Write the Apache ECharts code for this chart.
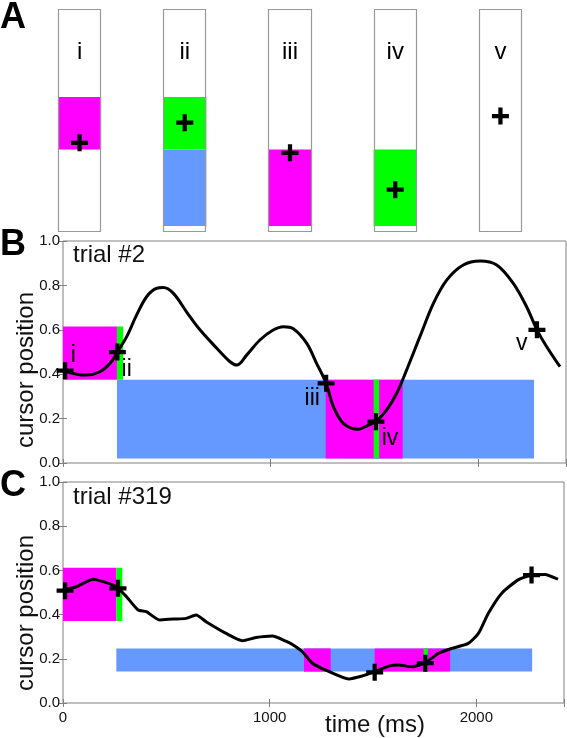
<!DOCTYPE html>
<html><head><meta charset="utf-8">
<script src="https://cdn.jsdelivr.net/npm/echarts@6/dist/echarts.min.js"></script>
<style>html,body{margin:0;padding:0;background:#fff}#c{width:567px;height:738px}</style>
</head><body><div id="c"></div>
<script>
// ---------- Panel A (screen schematic, positions 0..1) ----------
const boxNames = ['i', 'ii', 'iii', 'iv', 'v'];
const boxCursor = [0.40, 0.49, 0.355, 0.19, 0.52];
const boxLabelY = 0.807;
const boxFillBox = [0, 1, 1, 2, 3];
const boxFillLow = [0.37, 0.37, 0.027, 0.027, 0.027];
const boxFillHigh = [0.605, 0.605, 0.37, 0.37, 0.37];
const boxFillKind = ['magenta', 'green', 'blue', 'magenta', 'green'];

// ---------- Panel B: trial #2 ----------
const timeB = [0, 66, 114, 178, 227, 262, 307, 355, 403, 452, 483, 532, 596, 660, 741, 805, 837, 885, 949, 1013, 1062, 1110, 1174, 1222, 1268, 1303, 1351, 1424, 1472, 1508, 1560, 1608, 1656, 1720, 1785, 1849, 1929, 2010, 2090, 2170, 2234, 2284, 2331, 2395];
const posB = [0.416, 0.40, 0.396, 0.411, 0.449, 0.50, 0.569, 0.667, 0.749, 0.787, 0.79, 0.764, 0.68, 0.60, 0.517, 0.456, 0.441, 0.486, 0.554, 0.599, 0.614, 0.605, 0.54, 0.449, 0.359, 0.254, 0.179, 0.152, 0.171, 0.186, 0.239, 0.314, 0.419, 0.569, 0.719, 0.824, 0.892, 0.91, 0.892, 0.809, 0.704, 0.60, 0.524, 0.434];
const eventTimeB = [10, 262, 1268, 1508, 2284];
const eventPosB = [0.416, 0.50, 0.359, 0.186, 0.60];
const eventLabelB = ['i', 'ii', 'iii', 'iv', 'v'];
const eventLabelTimeB = [50, 307, 1201, 1576, 2211];
const eventLabelPosB = [0.482, 0.422, 0.291, 0.111, 0.539];
const zoneStartB = [0, 260, 260, 1266, 1497];
const zoneEndB = [260, 290, 2270, 1637, 1523];
const zoneLowB = [0.375, 0.375, 0.02, 0.02, 0.02];
const zoneHighB = [0.615, 0.615, 0.375, 0.375, 0.375];
const zoneKindB = ['magenta', 'green', 'blue', 'magenta', 'green'];

// ---------- Panel C: trial #319 ----------
const timeC = [0, 66, 146, 194, 258, 307, 363, 403, 467, 532, 596, 644, 692, 789, 869, 933, 1013, 1078, 1110, 1158, 1207, 1271, 1383, 1447, 1508, 1576, 1624, 1688, 1753, 1817, 1881, 1961, 2010, 2058, 2122, 2202, 2267, 2331, 2395];
const posC = [0.511, 0.526, 0.56, 0.549, 0.526, 0.481, 0.421, 0.413, 0.376, 0.38, 0.383, 0.398, 0.368, 0.315, 0.282, 0.296, 0.303, 0.28, 0.265, 0.232, 0.18, 0.149, 0.109, 0.122, 0.142, 0.167, 0.172, 0.164, 0.182, 0.225, 0.247, 0.27, 0.315, 0.406, 0.496, 0.557, 0.579, 0.582, 0.56];
const eventTimeC = [10, 266, 1508, 1753, 2267];
const eventPosC = [0.508, 0.519, 0.139, 0.18, 0.579];
const zoneStartC = [0, 258, 258, 1166, 1508, 1745];
const zoneEndC = [258, 287, 2270, 1295, 1873, 1765];
const zoneLowC = [0.371, 0.371, 0.142, 0.142, 0.142, 0.142];
const zoneHighC = [0.612, 0.612, 0.247, 0.247, 0.247, 0.247];
const zoneKindC = ['magenta', 'green', 'blue', 'magenta', 'magenta', 'green'];

// ---------- axes ----------
const timeMax = 2424;
const timeTickStep = 1000;
const posTickStep = 0.2;

// ---------- styling ----------
const COLORS = { magenta: '#ff00ff', green: '#00ff00', blue: '#6699ff' };
const CROSS = 'path://M3,0L5,0L5,3L8,3L8,5L5,5L5,8L3,8L3,5L0,5L0,3L3,3Z';
const FONT = '"Liberation Sans", Arial, sans-serif';
const GREY = '#808080';
const TXT = '#111';

const chart = echarts.init(document.getElementById('c'), null, { renderer: 'canvas' });

function rectItem(params, api) {
  const p0 = api.coord([api.value(0), api.value(3)]);
  const p1 = api.coord([api.value(1), api.value(2)]);
  return { type: 'rect', shape: { x: p0[0], y: p0[1], width: p1[0] - p0[0], height: p1[1] - p0[1] },
           style: { fill: api.visual('color') } };
}
function outlineItem(params, api) {
  const p0 = api.coord([api.value(0), api.value(3)]);
  const p1 = api.coord([api.value(1), api.value(2)]);
  const x0 = Math.round(p0[0]) + 0.5, y0 = Math.round(p0[1]) + 0.5;
  const x1 = Math.round(p1[0]) - 0.5, y1 = Math.round(p1[1]) - 0.5;
  return { type: 'rect', shape: { x: x0, y: y0, width: x1 - x0, height: y1 - y0 },
           style: { fill: 'none', stroke: '#999', lineWidth: 1.2 } };
}
function textRenderer(names, size) {
  return function (params, api) {
    const p = api.coord([api.value(0), api.value(1)]);
    return { type: 'text', x: p[0], y: p[1],
             style: { text: names[params.dataIndex], font: size + 'px ' + FONT, fill: '#000', align: 'center', verticalAlign: 'middle' } };
  };
}

const boxW = 0.41;
const boxOutlines = boxNames.map((n, k) => [k, k + boxW, 0, 1]);
const boxFills = boxFillBox.map((k, i) => ({ value: [k, k + boxW, boxFillLow[i], boxFillHigh[i]], itemStyle: { color: COLORS[boxFillKind[i]] } }));
const boxCrosses = boxCursor.map((y, k) => [k + boxW / 2, y]);
const boxLabels = boxNames.map((n, k) => [k + boxW / 2, boxLabelY]);

function zones(s, e, lo, hi, kind) {
  return s.map((v, i) => ({ value: [v, e[i], lo[i], hi[i]], itemStyle: { color: COLORS[kind[i]] } }));
}
const zip = (a, b) => a.map((v, i) => [v, b[i]]);

function timeAxis(grid, pos, labels) {
  return {
    type: 'value', gridIndex: grid, position: pos, min: 0, max: timeMax, interval: timeTickStep,
    axisLine: { show: false }, splitLine: { show: false },
    axisTick: { show: true, inside: true, length: 4, lineStyle: { color: GREY } },
    axisLabel: { show: labels, color: TXT, fontSize: 15, fontFamily: FONT, margin: 7,
                 formatter: v => (v % timeTickStep === 0 ? String(v) : '') }
  };
}
function posAxis(grid, pos, labels) {
  return {
    type: 'value', gridIndex: grid, position: pos, min: 0, max: 1, interval: posTickStep,
    axisLine: { show: false }, splitLine: { show: false },
    axisTick: { show: true, inside: true, length: 4, lineStyle: { color: GREY } },
    axisLabel: { show: labels, color: TXT, fontSize: 15, fontFamily: FONT, margin: 3,
                 formatter: v => v.toFixed(1) }
  };
}

const option = {
  animation: false,
  backgroundColor: '#fff',
  grid: [
    { left: 58, top: 9, width: 464, height: 223 },
    { left: 63, top: 241, width: 503, height: 222, show: true, borderColor: GREY, borderWidth: 1, backgroundColor: 'transparent' },
    { left: 63, top: 482, width: 503, height: 221, show: true, borderColor: GREY, borderWidth: 1, backgroundColor: 'transparent' }
  ],
  xAxis: [
    { type: 'value', gridIndex: 0, min: 0, max: 4 + boxW, show: false },
    timeAxis(1, 'bottom', false),
    timeAxis(1, 'top', false),
    timeAxis(2, 'bottom', true),
    timeAxis(2, 'top', false)
  ],
  yAxis: [
    { type: 'value', gridIndex: 0, min: 0, max: 1, show: false },
    posAxis(1, 'left', true),
    posAxis(1, 'right', false),
    posAxis(2, 'left', true),
    posAxis(2, 'right', false)
  ],
  graphic: [
    { type: 'text', left: 0, top: 0, style: { text: 'A', font: 'bold 36px ' + FONT, fill: '#000' } },
    { type: 'text', left: 0, top: 227, style: { text: 'B', font: 'bold 36px ' + FONT, fill: '#000' } },
    { type: 'text', left: 0, top: 468, style: { text: 'C', font: 'bold 36px ' + FONT, fill: '#000' } },
    { type: 'text', x: 26, y: 370, rotation: Math.PI / 2, style: { text: 'cursor position', font: '24px ' + FONT, fill: TXT, align: 'center', verticalAlign: 'middle' } },
    { type: 'text', x: 26, y: 613, rotation: Math.PI / 2, style: { text: 'cursor position', font: '24px ' + FONT, fill: TXT, align: 'center', verticalAlign: 'middle' } },
    { type: 'text', x: 375, y: 725, style: { text: 'time (ms)', font: '24px ' + FONT, fill: TXT, align: 'center', verticalAlign: 'middle' } },
    { type: 'text', x: 73, y: 255, style: { text: 'trial #2', font: '24px ' + FONT, fill: TXT, align: 'left', verticalAlign: 'middle' } },
    { type: 'text', x: 73, y: 497, style: { text: 'trial #319', font: '24px ' + FONT, fill: TXT, align: 'left', verticalAlign: 'middle' } }
  ],
  series: [
    // Panel A
    { type: 'custom', xAxisIndex: 0, yAxisIndex: 0, renderItem: rectItem, data: boxFills, silent: true, z: 1 },
    { type: 'custom', xAxisIndex: 0, yAxisIndex: 0, renderItem: outlineItem, data: boxOutlines, silent: true, z: 2 },
    { type: 'custom', xAxisIndex: 0, yAxisIndex: 0, renderItem: textRenderer(boxNames, 24), data: boxLabels, silent: true, z: 3 },
    { type: 'scatter', xAxisIndex: 0, yAxisIndex: 0, symbol: CROSS, symbolSize: 17, itemStyle: { color: '#000', opacity: 1 }, data: boxCrosses, silent: true, z: 4 },
    // Panel B
    { type: 'custom', xAxisIndex: 1, yAxisIndex: 1, renderItem: rectItem, data: zones(zoneStartB, zoneEndB, zoneLowB, zoneHighB, zoneKindB), silent: true, z: 1 },
    { type: 'line', xAxisIndex: 1, yAxisIndex: 1, data: zip(timeB, posB), smooth: 0.35, showSymbol: false, lineStyle: { color: '#000', width: 3 }, silent: true, z: 2 },
    { type: 'scatter', xAxisIndex: 1, yAxisIndex: 1, symbol: CROSS, symbolSize: 17, itemStyle: { color: '#000', opacity: 1 }, data: zip(eventTimeB, eventPosB), silent: true, z: 3 },
    { type: 'custom', xAxisIndex: 1, yAxisIndex: 1, renderItem: textRenderer(eventLabelB, 23), data: zip(eventLabelTimeB, eventLabelPosB), silent: true, z: 4 },
    // Panel C
    { type: 'custom', xAxisIndex: 3, yAxisIndex: 3, renderItem: rectItem, data: zones(zoneStartC, zoneEndC, zoneLowC, zoneHighC, zoneKindC), silent: true, z: 1 },
    { type: 'line', xAxisIndex: 3, yAxisIndex: 3, data: zip(timeC, posC), smooth: 0.2, showSymbol: false, lineStyle: { color: '#000', width: 3 }, silent: true, z: 2 },
    { type: 'scatter', xAxisIndex: 3, yAxisIndex: 3, symbol: CROSS, symbolSize: 17, itemStyle: { color: '#000', opacity: 1 }, data: zip(eventTimeC, eventPosC), silent: true, z: 3 }
  ]
};
chart.setOption(option);
</script>
</body></html>
